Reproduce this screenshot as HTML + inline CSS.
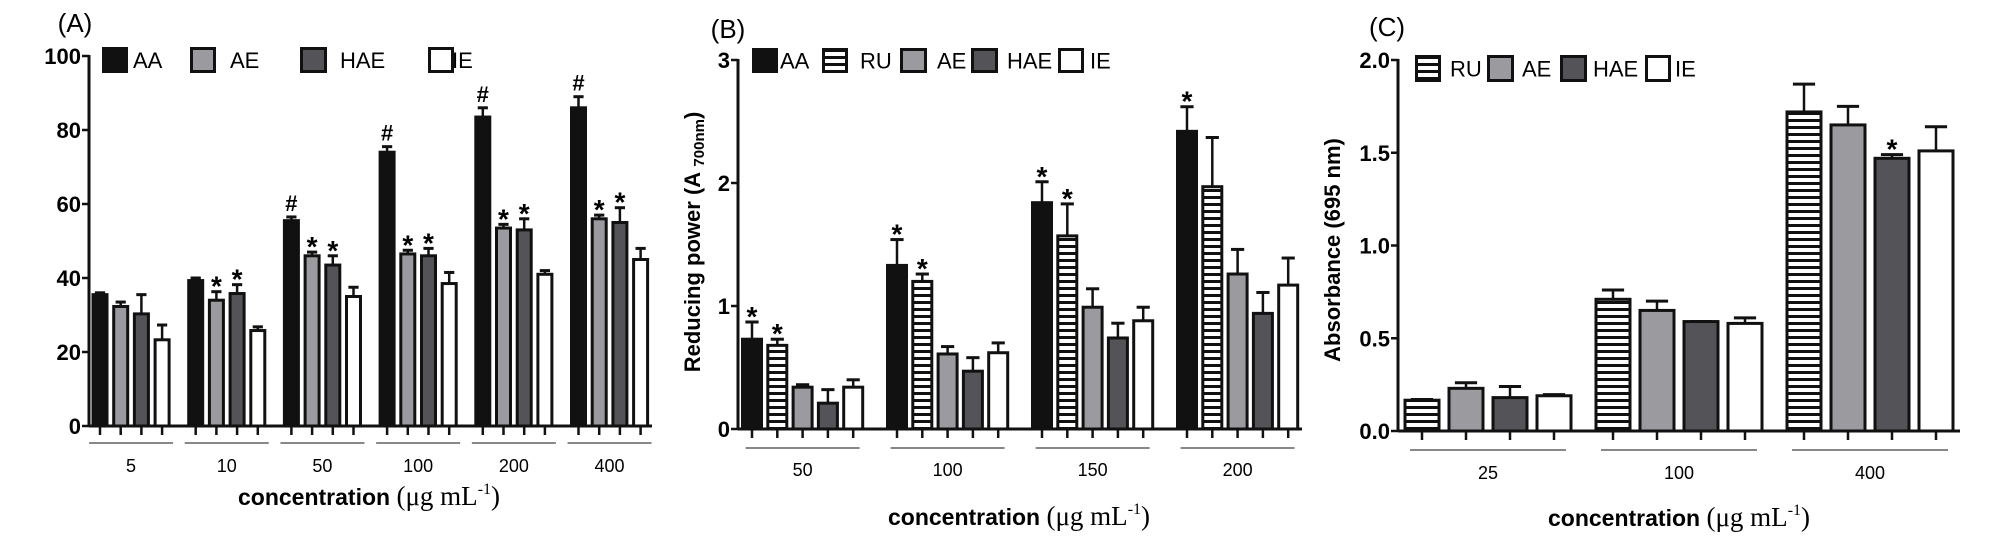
<!DOCTYPE html>
<html><head><meta charset="utf-8">
<style>
html,body{margin:0;padding:0;background:#fff;}
svg{display:block;}
text{font-family:"Liberation Sans",sans-serif;}
</style></head>
<body>
<svg id="fig" width="1989" height="545" viewBox="0 0 1989 545" xmlns="http://www.w3.org/2000/svg">
<defs>
<pattern id="stripes" patternUnits="userSpaceOnUse" width="8" height="7">
<rect width="8" height="7" fill="#fff"/><rect y="0" width="8" height="3" fill="#111"/>
</pattern>
</defs>
<g id="gA"></g>
<g id="gB"></g>
<g id="gC"></g>
</svg>
<script>
// ---- Panel A data ----
const catsA = ["5","10","50","100","200","400"];
const seriesA = ["AA","AE","HAE","IE"];
const aaA = [35.5,39.3,55.5,74,83.5,86];
const aeA = [32.3,34,46,46.5,53.5,56];
const haeA = [30.3,35.8,43.5,46,53,55];
const ieA = [23.3,25.8,35,38.5,41,45];
const aaErrA = [36,40,56.5,75.5,86,89];
const aeErrA = [33.5,36.3,47,47.5,54.5,57];
const haeErrA = [35.5,38.2,46,48,56,59];
const ieErrA = [27.3,26.8,37.5,41.5,42,48];
const hashA = [0,0,1,1,1,1];
const starAeA = [0,1,1,1,1,1];
const starHaeA = [0,1,1,1,1,1];
const ticksA = ["0","20","40","60","80","100"];
// ---- Panel B data ----
const catsB = ["50","100","150","200"];
const seriesB = ["AA","RU","AE","HAE","IE"];
const aaB = [0.73,1.33,1.84,2.42];
const ruB = [0.68,1.20,1.57,1.97];
const aeB = [0.34,0.61,0.99,1.26];
const haeB = [0.21,0.47,0.74,0.94];
const ieB = [0.34,0.62,0.88,1.17];
const aaErrB = [0.87,1.54,2.01,2.62];
const ruErrB = [0.73,1.26,1.83,2.37];
const aeErrB = [0.36,0.67,1.14,1.46];
const haeErrB = [0.32,0.58,0.86,1.11];
const ieErrB = [0.40,0.70,0.99,1.39];
const starAaB = [1,1,1,1];
const starRuB = [1,1,1,0];
const ticksB = ["0","1","2","3"];
// ---- Panel C data ----
const catsC = ["25","100","400"];
const seriesC = ["RU","AE","HAE","IE"];
const ruC = [0.166,0.71,1.72];
const aeC = [0.23,0.65,1.65];
const haeC = [0.18,0.59,1.47];
const ieC = [0.19,0.58,1.51];
const ruErrC = [0.17,0.76,1.87];
const aeErrC = [0.26,0.70,1.75];
const haeErrC = [0.24,0.59,1.49];
const ieErrC = [0.196,0.61,1.64];
const starHaeC = [0,0,1];
const ticksC = ["0.0","0.5","1.0","1.5","2.0"];

const NS = "http://www.w3.org/2000/svg";
const FILL = {AA:"#111", AE:"#9b9b9f", HAE:"#545458", IE:"#fff", RU:"url(#stripes)"};
function mk(parent, tag, attrs, txt){
  const e = document.createElementNS(NS, tag);
  for (const k in attrs) e.setAttribute(k, attrs[k]);
  if (txt !== undefined) e.textContent = txt;
  parent.appendChild(e);
  return e;
}

function panel(g, cfg){
  const y = v => cfg.y0 - (v / cfg.vmax) * (cfg.y0 - cfg.yTop);
  const xc = (gi, si) => cfg.first + gi * cfg.gsp + si * cfg.bsp;
  const nS = cfg.series.length;
  let t = mk(g, "text", {x:cfg.lab[0], y:cfg.lab[1], "font-size":26, "text-anchor":"middle"}, cfg.label);
  
  
  let ax = mk(g, "line", {x1:cfg.ax, y1:y(cfg.vmax)-1, x2:cfg.ax, y2:cfg.y0, stroke:"#111", "stroke-width":3});
  
  
  cfg.ticks.forEach((lbl, i) => {
    const v = parseFloat(lbl);
    const tk = mk(g, "line", {x1:cfg.ax-7, y1:y(v), x2:cfg.ax, y2:y(v), stroke:"#111", "stroke-width":2.5});
    
    
    const tl = mk(g, "text", {x:cfg.ax-8, y:y(v)+8, "font-size":22, "font-weight":"bold", "text-anchor":"end"}, lbl);
    
    
  });
  const xa = mk(g, "line", {x1:cfg.ax, y1:cfg.y0, x2:cfg.xEnd, y2:cfg.y0, stroke:"#111", "stroke-width":3});
  
  
  cfg.cats.forEach((cat, gi) => {
    cfg.series.forEach((s, si) => {
      const cx = xc(gi, si);
      const v = cfg.vals[si][gi], ev = cfg.errs[si][gi];
      const bw = cfg.bw;
      const el = mk(g, "line", {x1:cx, y1:y(v), x2:cx, y2:y(ev), stroke:"#111", "stroke-width":2.5});
      
      
      const ec = mk(g, "line", {x1:cx-bw*0.3, y1:y(ev), x2:cx+bw*0.3, y2:y(ev), stroke:"#111", "stroke-width":3});
      
      
      const r = mk(g, "rect", {x:cx-bw/2+1.5, y:y(v), width:bw-3, height:cfg.y0-y(v), fill:FILL[s], stroke:"#111", "stroke-width":3});
      
      
      const tk = mk(g, "line", {x1:cx, y1:cfg.y0, x2:cx, y2:cfg.y0+9, stroke:"#111", "stroke-width":2.5});
      
      
      const mark = cfg.marks[si] ? cfg.marks[si][gi] : 0;
      if (mark) {
        const sym = cfg.markSym[si];
        const mt = mk(g, "text", {x:cx, y:y(ev) + (sym === "#" ? -6 : 4), "font-size":sym === "#" ? 22 : 28, "font-weight":"bold", "text-anchor":"middle"}, sym);
        
        
      }
    });
    const gc = xc(gi, (nS - 1) / 2);
    const ul = mk(g, "line", {x1:gc-cfg.ulh, y1:cfg.ulY, x2:gc+cfg.ulh, y2:cfg.ulY, stroke:"#888", "stroke-width":2});
    
    
    const gl = mk(g, "text", {x:gc, y:cfg.glY, "font-size":18, "text-anchor":"middle"}, cat);
    
    
  });
  cfg.legend.forEach((L, i) => {
    const lb = mk(g, "rect", {x:L[0]+1.5, y:cfg.legY+1.5, width:L[2]-3, height:cfg.legH-3, fill:FILL[cfg.series[i]], stroke:"#111", "stroke-width":3});
    
    
    const lt = mk(g, "text", {x:L[1], y:cfg.legY+cfg.legH/2+8, "font-size":22}, cfg.series[i]);
    
    
  });
  const xt = mk(g, "text", {x:cfg.xtX, y:cfg.xtY, "font-size":23, "font-weight":"bold"});
  
  
  mk(xt, "tspan", {}, "concentration ");
  mk(xt, "tspan", {"font-family":"Liberation Serif, serif", "font-weight":"normal", "font-size":27}, "(\u03BCg mL");
  mk(xt, "tspan", {"font-family":"Liberation Serif, serif", "font-weight":"normal", "font-size":16, dy:-11}, "-1");
  mk(xt, "tspan", {"font-family":"Liberation Serif, serif", "font-weight":"normal", "font-size":27, dy:11}, ")");
  if (cfg.yt) {
    const yt = mk(g, "text", {x:0, y:0, "font-size":22, "font-weight":"bold", "text-anchor":"middle", transform:"translate(" + cfg.yt.x + "," + cfg.yt.y + ") rotate(-90)"});
    
    
    cfg.yt.parts.forEach(p => mk(yt, "tspan", p[1], p[0]));
  }
}

panel(document.getElementById("gA"), {
  label:"(A)", lab:[75,32], y0:426, yTop:56, vmax:100, ax:89, xEnd:652,
  first:100, gsp:95.7, bsp:20.7, bw:17, ticks:ticksA, cats:catsA, series:seriesA,
  vals:[aaA,aeA,haeA,ieA], errs:[aaErrA,aeErrA,haeErrA,ieErrA],
  marks:[hashA,starAeA,starHaeA,null], markSym:["#","*","*",""],
  ulh:42, ulY:443, glY:472, legY:47, legH:26,
  legend:[[102,133,26],[190,230,26],[300,340,27],[428,452,26]],
  xtX:238, xtY:505
});
panel(document.getElementById("gB"), {
  label:"(B)", lab:[728,38], y0:429, yTop:60, vmax:3, ax:738, xEnd:1302,
  first:752, gsp:145, bsp:25.3, bw:22, ticks:ticksB, cats:catsB, series:seriesB,
  vals:[aaB,ruB,aeB,haeB,ieB], errs:[aaErrB,ruErrB,aeErrB,haeErrB,ieErrB],
  marks:[starAaB,starRuB,null,null,null], markSym:["*","*","","",""],
  ulh:57, ulY:448, glY:476, legY:48, legH:25,
  legend:[[752,780,26],[822,860,26],[900,937,27],[971,1007,27],[1058,1090,26]],
  xtX:888, xtY:525,
  yt:{x:700, y:242, parts:[["Reducing power (A ",{}],["700nm",{"font-size":15, dy:4}],[")",{dy:-4}]]}
});
panel(document.getElementById("gC"), {
  label:"(C)", lab:[1387,36], y0:431, yTop:60, vmax:2, ax:1398, xEnd:1960,
  first:1422, gsp:191, bsp:44, bw:37, ticks:ticksC, cats:catsC, series:seriesC,
  vals:[ruC,aeC,haeC,ieC], errs:[ruErrC,aeErrC,haeErrC,ieErrC],
  marks:[null,null,starHaeC,null], markSym:["","","*",""],
  ulh:78, ulY:450, glY:479, legY:55, legH:27,
  legend:[[1415,1450,26],[1487,1522,27],[1560,1593,27],[1645,1675,26]],
  xtX:1548, xtY:526,
  yt:{x:1340, y:250, parts:[["Absorbance (695 nm)",{}]]}
});
</script>
</body></html>
